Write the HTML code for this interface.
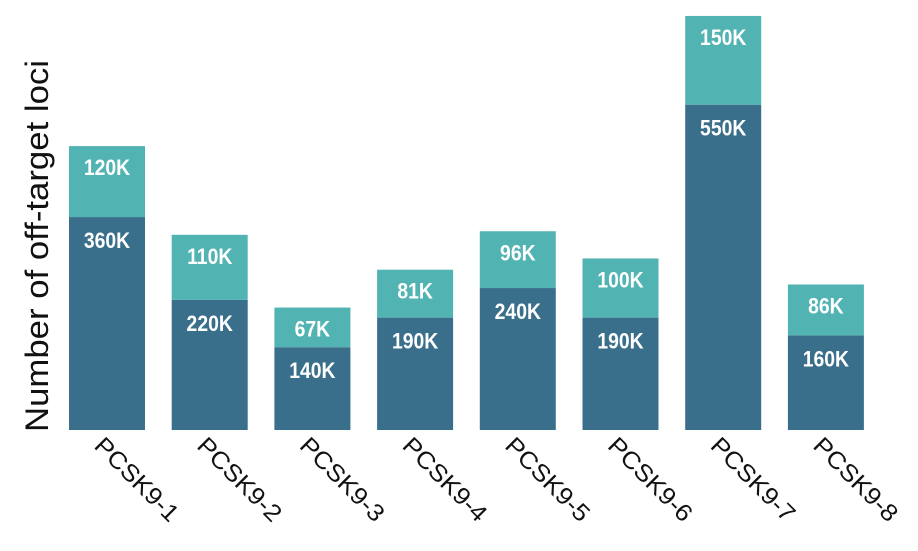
<!DOCTYPE html>
<html><head><meta charset="utf-8"><style>
html,body{margin:0;padding:0;background:#fff;}
svg{display:block;font-family:"Liberation Sans",sans-serif;}
</style></head><body>
<svg id="chart" width="918" height="551" viewBox="0 0 918 551">
<text x="0" y="0" transform="translate(48,246) rotate(-90)" text-anchor="middle" font-size="32" textLength="372" lengthAdjust="spacingAndGlyphs" fill="#111">Number of off-target loci</text>
<g id="bars"></g>
</svg>
<script>
const categories = ["PCSK9-1","PCSK9-2","PCSK9-3","PCSK9-4","PCSK9-5","PCSK9-6","PCSK9-7","PCSK9-8"];
const baseValues = [360,220,140,190,240,190,550,160];
const topValues = [120,110,67,81,96,100,150,86];
const baseLabels = ["360K","220K","140K","190K","240K","190K","550K","160K"];
const topLabels = ["120K","110K","67K","81K","96K","100K","150K","86K"];

const NS="http://www.w3.org/2000/svg";
const g=document.getElementById('bars');
const baseY=430, pxPerK=0.5915, x0=69, step=102.7, bw=76;
const y=v=>baseY-v*pxPerK;
const xAt=i=>x0+i*step;
function mk(tag,attrs){const e=document.createElementNS(NS,tag);for(const k in attrs)e.setAttribute(k,attrs[k]);return e;}
categories.forEach((c,i)=>{
  const x=xAt(i);
  const b=baseValues[i], t=topValues[i];
  const r1=mk('rect',{x:x,y:y(b),width:bw,height:baseY-y(b),fill:'#3a6f8c'});
  
  
  g.appendChild(r1);
  const r2=mk('rect',{x:x,y:y(b+t),width:bw,height:y(b)-y(b+t),fill:'#52b3b3'});
  
  
  g.appendChild(r2);
  const l1=mk('text',{x:0,y:0,'text-anchor':'middle','font-size':'22','font-weight':'bold',fill:'#fff',transform:'translate('+(x+bw/2)+','+(y(b)+31)+') scale(0.88,1)'});
  l1.textContent=baseLabels[i];
  
  
  g.appendChild(l1);
  const l2=mk('text',{x:0,y:0,'text-anchor':'middle','font-size':'22','font-weight':'bold',fill:'#fff',transform:'translate('+(x+bw/2)+','+(y(b+t)+29)+') scale(0.88,1)'});
  l2.textContent=topLabels[i];
  
  
  g.appendChild(l2);
  const xl=mk('text',{x:0,y:0,'font-size':'24',fill:'#111',textLength:'108',lengthAdjust:'spacingAndGlyphs',transform:'translate('+(x+bw/2-14)+',447) rotate(45)'});
  xl.textContent=c;
  
  
  g.appendChild(xl);
});
</script>
</body></html>
